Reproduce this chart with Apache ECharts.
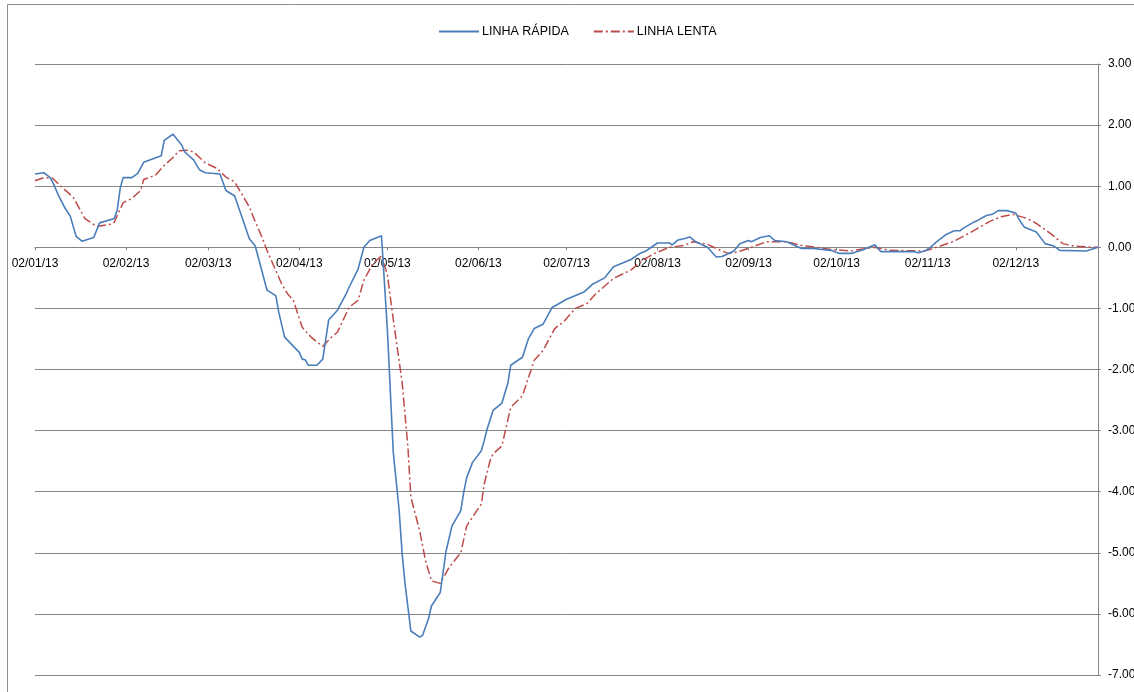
<!DOCTYPE html>
<html>
<head>
<meta charset="utf-8">
<script src="https://cdn.jsdelivr.net/npm/echarts@6/dist/echarts.min.js"></script>
<style>
html,body{margin:0;padding:0;background:#fff;}
#chart{width:1134px;height:692px;}
</style>
</head>
<body>
<div id="chart"></div>
<script>
// ---- DATA ----
const tickDates = ['01-02','02-02','03-02','04-02','05-02','06-02','07-02','08-02','09-02','10-02','11-02','12-02'];
const tickLabels = ['02/01/13','02/02/13','02/03/13','02/04/13','02/05/13','02/06/13','02/07/13','02/08/13','02/09/13','02/10/13','02/11/13','02/12/13'];

const fastDates = ['01-02','01-05','01-07','01-08','01-10','01-12','01-14','01-16','01-18','01-22','01-24','01-29','01-30','01-31',
'02-01','02-04','02-06','02-08','02-14','02-15','02-18','02-21','02-22','02-25','02-27',
'03-01','03-06','03-08','03-11','03-16','03-18','03-22','03-25','03-26','03-28',
'04-02','04-03','04-04','04-05','04-08','04-10','04-12','04-15','04-18','04-19','04-22','04-24','04-26','04-30',
'05-02','05-04','05-06','05-07','05-08','05-10','05-13','05-14','05-16','05-17','05-20','05-22','05-24','05-27','05-28','05-29','05-31',
'06-03','06-04','06-05','06-07','06-10','06-12','06-13','06-17','06-19','06-21','06-24','06-27',
'07-02','07-08','07-11','07-15','07-18','07-24','07-27','07-29',
'08-02','08-06','08-07','08-09','08-11','08-13','08-15','08-19','08-22','08-24','08-28','08-30',
'09-02','09-03','09-06','09-09','09-11','09-15','09-20','09-24','09-30',
'10-03','10-07','10-11','10-15','10-17','10-28','10-30',
'11-02','11-05','11-08','11-11','11-13','11-14','11-18','11-19','11-22','11-24','11-26','11-29',
'12-02','12-03','12-04','12-05','12-09','12-12','12-15','12-17','12-26','12-30'];
const fastValues = [1.20,1.22,1.15,1.07,0.85,0.66,0.51,0.18,0.10,0.16,0.40,0.47,0.61,0.96,
1.14,1.14,1.21,1.39,1.50,1.75,1.85,1.67,1.56,1.43,1.27,
1.22,1.20,0.93,0.84,0.14,0.02,-0.70,-0.79,-1.06,-1.47,
-1.72,-1.83,-1.84,-1.93,-1.93,-1.83,-1.19,-1.03,-0.76,-0.65,-0.36,0.00,0.11,0.19,
-1.35,-3.35,-4.30,-5.00,-5.50,-6.28,-6.38,-6.35,-6.08,-5.87,-5.65,-4.97,-4.56,-4.31,-4.01,-3.77,-3.52,
-3.33,-3.16,-2.97,-2.67,-2.55,-2.23,-1.93,-1.80,-1.50,-1.33,-1.26,-0.99,
-0.85,-0.73,-0.60,-0.50,-0.32,-0.20,-0.10,-0.06,
0.07,0.07,0.04,0.12,0.14,0.17,0.09,0.00,-0.16,-0.15,-0.06,0.06,
0.11,0.09,0.16,0.19,0.11,0.09,-0.02,-0.02,-0.05,
-0.10,-0.10,-0.04,0.04,-0.07,-0.07,-0.09,
-0.04,0.09,0.20,0.27,0.27,0.31,0.42,0.44,0.52,0.54,0.60,0.60,
0.56,0.47,0.39,0.33,0.25,0.06,0.02,-0.05,-0.06,0.00];

const slowDates = ['01-02','01-05','01-08','01-11','01-15','01-19','01-23','01-28','01-29',
'02-01','02-04','02-07','02-08','02-12','02-15','02-18','02-20','02-23','02-25',
'03-01','03-05','03-08','03-11','03-16','03-18','03-20','03-22','03-27','03-29','03-31',
'04-03','04-06','04-08','04-10','04-13','04-15','04-19','04-22','04-24','04-27','04-30',
'05-02','05-04','05-07','05-09','05-10','05-13','05-15','05-17','05-20','05-23','05-27','05-29',
'06-03','06-04','06-06','06-07','06-10','06-13','06-17','06-21','06-24','06-28',
'07-01','07-05','07-09','07-12','07-18','07-24','07-28',
'08-01','08-06','08-11','08-14','08-19','08-22','08-26','08-29',
'09-03','09-08','09-15','09-20','09-25',
'10-01','10-07','10-09','10-15','10-20',
'11-01','11-05','11-11','11-18','11-23','11-27',
'12-01','12-06','12-09','12-14','12-18','12-22','12-28','12-30'];
const slowValues = [1.09,1.14,1.13,0.99,0.82,0.47,0.34,0.38,0.41,
0.73,0.80,0.93,1.11,1.18,1.34,1.47,1.58,1.59,1.56,
1.38,1.29,1.15,1.07,0.66,0.42,0.20,-0.05,-0.60,-0.76,-0.87,
-1.31,-1.47,-1.55,-1.62,-1.47,-1.39,-0.98,-0.87,-0.54,-0.27,-0.14,
-0.45,-1.18,-2.20,-3.27,-4.09,-4.64,-5.13,-5.46,-5.50,-5.24,-5.00,-4.56,
-4.20,-3.87,-3.49,-3.38,-3.25,-2.62,-2.43,-1.85,-1.69,-1.33,
-1.22,-1.00,-0.92,-0.76,-0.51,-0.37,-0.21,
-0.10,0.00,0.03,0.09,0.05,-0.02,-0.10,-0.08,
0.00,0.09,0.09,0.03,0.00,
-0.04,-0.06,-0.04,0.00,-0.05,
-0.06,0.00,0.10,0.28,0.42,0.50,
0.54,0.47,0.39,0.22,0.06,0.02,0.00,0.00];

const yTicks = {min:-7, max:3, step:1};

// ---- AXIS CATEGORIES (every calendar day, 02/01/13 to 30/12/13) ----
const categories = [];
for (let t = Date.UTC(2013,0,2); t <= Date.UTC(2013,11,30); t += 86400000) {
  const d = new Date(t);
  categories.push(String(d.getUTCMonth()+1).padStart(2,'0') + '-' + String(d.getUTCDate()).padStart(2,'0'));
}
const tickSet = new Set(tickDates);

const W = 1134, H = 692;
const gridTop = 64, gridBottom = 17;
const plotH = H - gridTop - gridBottom;
// move the category axis up to the value-axis zero line
const zeroOffset = -plotH * (0 - yTicks.min) / (yTicks.max - yTicks.min);

const chart = echarts.init(document.getElementById('chart'), null, {renderer:'canvas'});
const font = 'Liberation Sans, Arial, sans-serif';
chart.setOption({
  animation:false,
  backgroundColor:'#fff',
  textStyle:{fontFamily:font},
  graphic:[{type:'rect', shape:{x:7.5, y:4.5, width:1300, height:900}, style:{fill:'none', stroke:'#8c8c8c', lineWidth:1}, silent:true, z:-1}],
  legend:{
    top:25, left:438, padding:0, itemWidth:40, itemHeight:12, itemGap:24,
    itemStyle:{opacity:0},
    textStyle:{fontFamily:font, fontSize:12.5, color:'#000', padding:[0,0,0,-2]},
    data:['LINHA RÁPIDA','LINHA LENTA']
  },
  grid:{left:35, right:36, top:gridTop, bottom:gridBottom, containLabel:false, outerBoundsMode:'none'},
  xAxis:{
    type:'category', data:categories, boundaryGap:false, position:'bottom', offset:zeroOffset,
    axisLine:{onZero:false, lineStyle:{color:'#868686', width:1}},
    axisTick:{show:true, length:3, lineStyle:{color:'#868686'}, interval:(i,v)=>tickSet.has(v)},
    axisLabel:{interval:(i,v)=>tickSet.has(v), formatter:v=>tickLabels[tickDates.indexOf(v)], color:'#000', fontSize:12, fontFamily:font, margin:10},
    splitLine:{show:false}
  },
  yAxis:{
    type:'value', position:'right', min:yTicks.min, max:yTicks.max, interval:yTicks.step,
    axisLine:{show:true, lineStyle:{color:'#868686'}},
    axisTick:{show:true, length:3, lineStyle:{color:'#868686'}},
    axisLabel:{formatter:v=>v.toFixed(2), color:'#000', fontSize:12, fontFamily:font, margin:10},
    splitLine:{show:true, lineStyle:{color:'#868686', width:1}}
  },
  series:[
    {name:'LINHA RÁPIDA', type:'line', symbol:'none', showSymbol:false,
     data:fastDates.map((d,i)=>[d, fastValues[i]]),
     lineStyle:{color:'#4a7ebb', width:1.6}, itemStyle:{color:'#4a7ebb'}, z:3},
    {name:'LINHA LENTA', type:'line', symbol:'none', showSymbol:false,
     data:slowDates.map((d,i)=>[d, slowValues[i]]),
     lineStyle:{color:'#be4b48', width:1.5, type:[9,3,2,3]}, itemStyle:{color:'#be4b48'}, z:2}
  ]
});
</script>
</body>
</html>
